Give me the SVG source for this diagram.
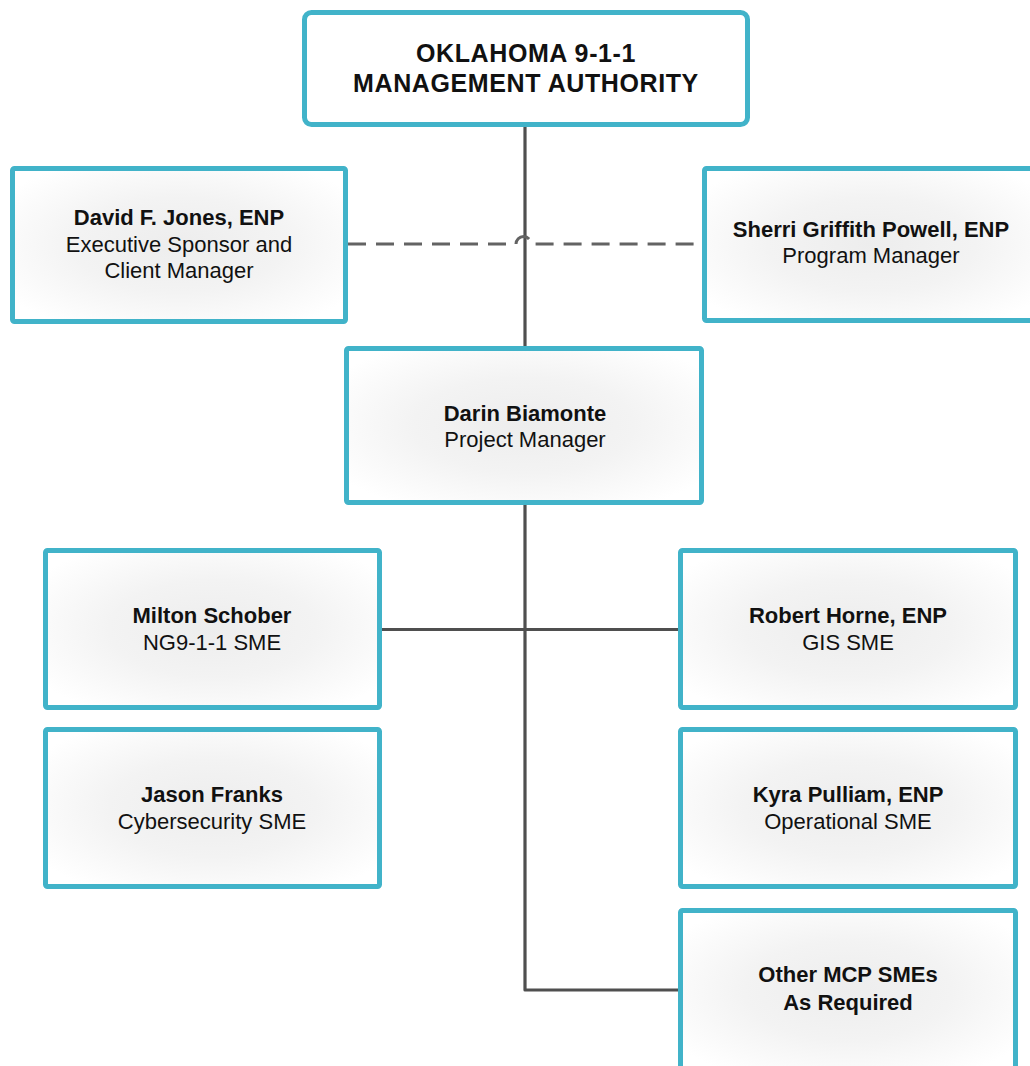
<svg xmlns="http://www.w3.org/2000/svg" width="1030" height="1066" viewBox="0 0 1030 1066">
  <style>
    .box { fill: url(#boxfill); stroke: #41b3c9; stroke-width: 5; }
    .top { fill: #ffffff; stroke: #41b3c9; stroke-width: 5; }
    .conn { fill: none; stroke: #4f4f4f; stroke-width: 3.2; stroke-linejoin: round; }
    .dash { fill: none; stroke: #636363; stroke-width: 3; stroke-dasharray: 18 10; }
    text { font-family: "Liberation Sans", Arial, sans-serif; font-size: 22px; fill: #111111; text-anchor: middle; }
    .b { font-weight: bold; }
    .title { font-size: 25px; font-weight: bold; letter-spacing: 0.6px; }
  </style>
  <defs>
    <radialGradient id="boxfill" cx="50%" cy="50%" r="62%">
      <stop offset="0%" stop-color="#ededed"/>
      <stop offset="50%" stop-color="#f3f3f3"/>
      <stop offset="100%" stop-color="#ffffff"/>
    </radialGradient>
  </defs>
  <rect width="1030" height="1066" fill="#ffffff"/>

  <g id="connectors">
    <path class="conn" d="M525,127 V346"/>
    <path class="conn" d="M525,505 V990 H680"/>
    <path class="conn" d="M382,629.5 H679"/>
    <path class="dash" d="M348,244 H516 A7.5,7.5 0 0 1 531,244 H702"/>
  </g>

  <g id="node-oklahoma">
    <rect class="top" x="304.5" y="12.5" width="443" height="112" rx="7"/>
    <text class="title" x="526" y="62">OKLAHOMA 9-1-1</text>
    <text class="title" x="526" y="92">MANAGEMENT AUTHORITY</text>
  </g>

  <g id="node-jones">
    <rect class="box" x="12.5" y="168.5" width="333" height="153" rx="2"/>
    <text class="b" x="179" y="225">David F. Jones, ENP</text>
    <text x="179" y="252">Executive Sponsor and</text>
    <text x="179" y="278">Client Manager</text>
  </g>

  <g id="node-powell">
    <rect class="box" x="704.5" y="168.5" width="334" height="152" rx="2"/>
    <text class="b" x="871" y="237">Sherri Griffith Powell, ENP</text>
    <text x="871" y="263">Program Manager</text>
  </g>

  <g id="node-biamonte">
    <rect class="box" x="346.5" y="348.5" width="355" height="154" rx="2"/>
    <text class="b" x="525" y="421">Darin Biamonte</text>
    <text x="525" y="447">Project Manager</text>
  </g>

  <g id="node-schober">
    <rect class="box" x="45.5" y="550.5" width="334" height="157" rx="2"/>
    <text class="b" x="212" y="623">Milton Schober</text>
    <text x="212" y="650">NG9-1-1 SME</text>
  </g>

  <g id="node-franks">
    <rect class="box" x="45.5" y="729.5" width="334" height="157" rx="2"/>
    <text class="b" x="212" y="802">Jason Franks</text>
    <text x="212" y="829">Cybersecurity SME</text>
  </g>

  <g id="node-horne">
    <rect class="box" x="680.5" y="550.5" width="335" height="157" rx="2"/>
    <text class="b" x="848" y="623">Robert Horne, ENP</text>
    <text x="848" y="650">GIS SME</text>
  </g>

  <g id="node-pulliam">
    <rect class="box" x="680.5" y="729.5" width="335" height="157" rx="2"/>
    <text class="b" x="848" y="802">Kyra Pulliam, ENP</text>
    <text x="848" y="829">Operational SME</text>
  </g>

  <g id="node-other">
    <rect class="box" x="680.5" y="910.5" width="335" height="160" rx="2"/>
    <text class="b" x="848" y="982">Other MCP SMEs</text>
    <text class="b" x="848" y="1010">As Required</text>
  </g>
</svg>
